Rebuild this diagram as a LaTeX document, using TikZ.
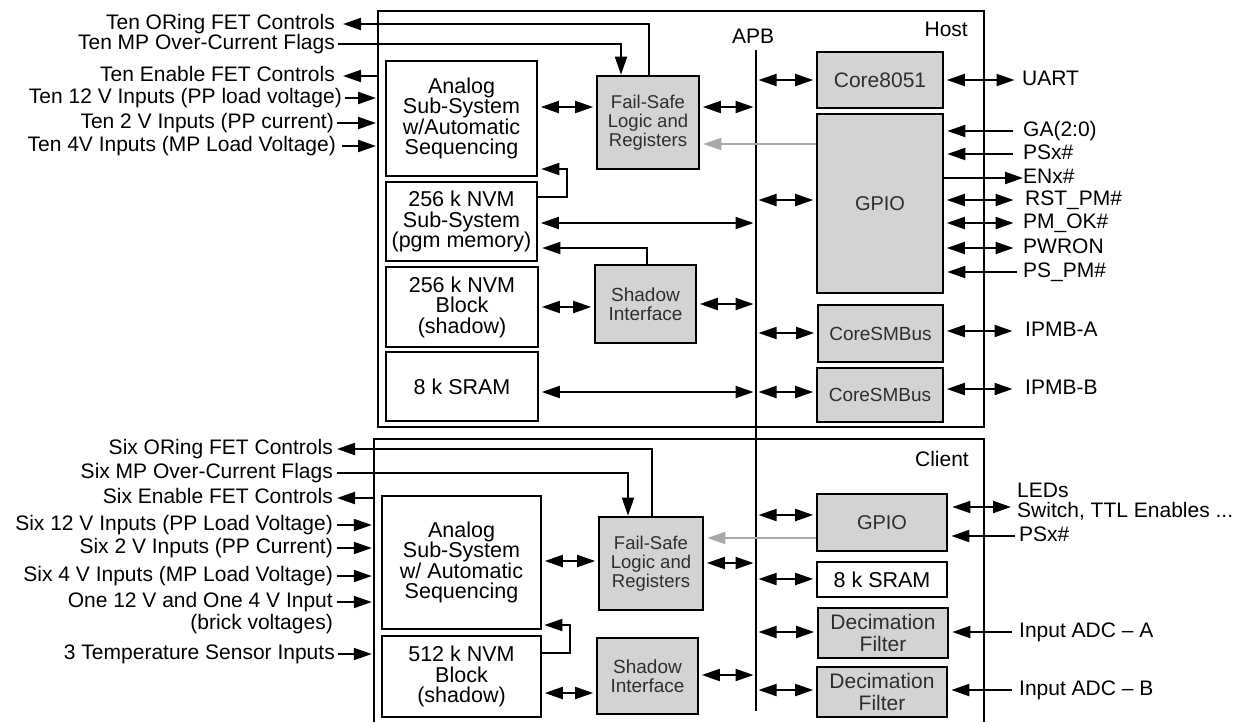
\documentclass[tikz,border=0pt]{standalone}
\usepackage{fontspec}
\setmainfont{Liberation Sans}
\usetikzlibrary{arrows.meta}
\definecolor{boxgray}{HTML}{D3D3D5}
\definecolor{textgray}{HTML}{2E2E2E}
\definecolor{arrgray}{HTML}{A8A8A8}
\begin{document}
\begin{tikzpicture}[x=1pt,y=-1pt,
  lab/.style={font=\fontsize{21}{21}\selectfont, inner sep=0pt, text height=15pt, text depth=4pt},
  sz/.style 2 args={minimum width=#1pt, minimum height=#2pt},
  wbox/.style={draw, line width=2.6pt, fill=white, align=center, inner sep=0pt, font=\fontsize{21.5}{20.5}\selectfont},
  gbox/.style={draw, line width=2.6pt, fill=boxgray, align=center, inner sep=0pt, text=textgray, font=\fontsize{19}{19}\selectfont},
  frame/.style={draw, line width=2pt},
  arr/.style={line width=2pt, -{Triangle[length=18pt,width=12pt]}},
  dbl/.style={line width=2pt, {Triangle[length=18pt,width=12pt]}-{Triangle[length=18pt,width=12pt]}},
  garr/.style={line width=2pt, draw=arrgray, -{Triangle[length=18pt,width=12pt]}},
  gap/.style={shorten <=2.5pt, shorten >=2.5pt},
]
\useasboundingbox (0,0) rectangle (1241,721);

% frames
\node[frame, sz={606}{416}] (host) at (681,219) {};
\node[sz={610}{300}] (client) at (679,589) {};
\draw[frame] (client.south west) |- (client.north east) -- (client.south east);
\node[lab, anchor=east] (hostlab) at (968,31) {Host};
\node[lab, anchor=east] (clientlab) at (969,461) {Client};

% APB bus
\coordinate (apbT) at (756,50);
\coordinate (apbB) at (756,711);
\draw[line width=2pt] (apbT) -- (apbB);
\node[lab] (apblab) at (753,37.5) {APB};

% ---------- Host boxes ----------
\node[wbox, sz={151}{115}] (anaH) at (461.5,118.5) {Analog\\Sub-System\\w/Automatic\\Sequencing};
\node[gbox, sz={102}{93}, font=\fontsize{18.5}{19}\selectfont] (failH) at (648,122.5) {Fail-Safe\\Logic and\\Registers};
\node[wbox, sz={151}{79}] (nvmH) at (461.5,221.5) {256 k NVM\\Sub-System\\(pgm memory)};
\node[wbox, sz={152}{80}] (blkH) at (462,307) {256 k NVM\\Block\\(shadow)};
\node[gbox, sz={101}{78}, font=\fontsize{19}{18.5}\selectfont] (shdH) at (645.5,304) {Shadow\\Interface};
\node[wbox, sz={152}{69}] (sramH) at (462,386.5) {8 k SRAM};
\node[gbox, sz={126}{56}, font=\fontsize{21}{21}\selectfont] (coreH) at (880,80) {Core8051};
\node[gbox, sz={126}{179}, font=\fontsize{20}{20}\selectfont] (gpioH) at (880,203.5) {GPIO};
\node[gbox, sz={125}{57}] (smbA) at (880.5,333.5) {CoreSMBus};
\node[gbox, sz={126}{54}] (smbB) at (880,395) {CoreSMBus};

% Host left labels
\node[lab, anchor=east] (lORH) at (335,24) {Ten ORing FET Controls};
\node[lab, anchor=east] (lMPH) at (335,44) {Ten MP Over-Current Flags};
\node[lab, anchor=east] (lENH) at (335,76) {Ten Enable FET Controls};
\node[lab, anchor=east] (l12H) at (342,98) {Ten 12 V Inputs (PP load voltage)};
\node[lab, anchor=east] (l2H) at (334,123) {Ten 2 V Inputs (PP current)};
\node[lab, anchor=east] (l4H) at (336,146) {Ten 4V Inputs (MP Load Voltage)};

\draw[arr] ([xshift=1pt]failH.north) |- ([xshift=8pt]lORH.east);
\draw[arr] ([xshift=3pt]lMPH.east) -| ([xshift=-27pt]failH.north);
\draw[arr] (host.west |- lENH.east) -- ([xshift=8pt]lENH.east);
\draw[arr, shorten >=1pt] ([xshift=3pt]l12H.east) -- (host.west |- l12H.east);
\draw[arr, shorten >=1pt] ([xshift=3pt]l2H.east) -- (host.west |- l2H.east);
\draw[arr, shorten >=1pt] ([xshift=6pt]l4H.east) -- (host.west |- l4H.east);

% Host internal connectors
\draw[dbl, gap] (anaH.east |- 0,107) -- (failH.west |- 0,107);
\draw[dbl, gap] (failH.east |- 0,107) -- (apbT |- 0,107);
\draw[garr, shorten >=3pt] (gpioH.west |- 0,144) -- (failH.east |- 0,144);
\draw[arr, shorten >=3pt] (nvmH.east |- 0,197) -| (567,169) -- (anaH.east |- 0,169);
\draw[dbl, gap] (nvmH.east |- 0,223) -- (apbT |- 0,223);
\draw[arr, shorten >=4pt] ([xshift=1.5pt]shdH.north) |- (nvmH.east |- 0,248);
\draw[dbl, gap] (blkH.east |- 0,307) -- (shdH.west |- 0,307);
\draw[dbl, gap] (shdH.east |- 0,304) -- (apbT |- 0,304);
\draw[dbl, gap] (sramH.east |- 0,392) -- (apbT |- 0,392);
\draw[dbl, gap] (apbT |- coreH.west) -- (coreH.west);
\draw[dbl, gap] (apbT |- 0,200) -- (gpioH.west |- 0,200);
\draw[dbl, gap] (apbT |- 0,333) -- (smbA.west |- 0,333);
\draw[dbl, gap] (apbT |- 0,392) -- (smbB.west |- 0,392);

% Host right labels
\node[lab, anchor=west] (lUART) at (1022,80) {UART};
\node[lab, anchor=west] (lGA) at (1023,131) {GA(2:0)};
\node[lab, anchor=west] (lPSH) at (1023,154) {PSx\#};
\node[lab, anchor=west] (lEN) at (1023,178) {ENx\#};
\node[lab, anchor=west] (lRST) at (1025,200) {RST\_PM\#};
\node[lab, anchor=west] (lPMOK) at (1023,223) {PM\_OK\#};
\node[lab, anchor=west] (lPWR) at (1023,248) {PWRON};
\node[lab, anchor=west] (lPSPM) at (1023,272) {PS\_PM\#};
\node[lab, anchor=west] (lIPA) at (1025,331) {IPMB-A};
\node[lab, anchor=west] (lIPB) at (1025,389) {IPMB-B};

\draw[dbl, gap] (coreH.east) -- ([xshift=-5pt]lUART.west);
\draw[arr, shorten >=3pt] ([xshift=-10pt]lGA.west) -- (gpioH.east |- lGA.west);
\draw[arr, shorten >=3pt] ([xshift=-10pt]lPSH.west) -- (gpioH.east |- lPSH.west);
\draw[arr] (gpioH.east |- lEN.west) -- (lEN.west);
\draw[dbl, gap] (gpioH.east |- lRST.west) -- ([xshift=-9pt]lRST.west);
\draw[dbl, gap] (gpioH.east |- lPMOK.west) -- ([xshift=-7pt]lPMOK.west);
\draw[dbl, gap] (gpioH.east |- lPWR.west) -- ([xshift=-7pt]lPWR.west);
\draw[arr, shorten >=3pt] ([xshift=-6pt]lPSPM.west) -- (gpioH.east |- lPSPM.west);
\draw[dbl, gap] (smbA.east |- lIPA.west) -- ([xshift=-10pt]lIPA.west);
\draw[dbl, gap] (smbB.east |- lIPB.west) -- ([xshift=-10pt]lIPB.west);

% ---------- Client boxes ----------
\node[wbox, sz={159}{133}] (anaC) at (461.5,562.5) {Analog\\Sub-System\\w/ Automatic\\Sequencing};
\node[gbox, sz={104}{93}, font=\fontsize{18.5}{19}\selectfont] (failC) at (651,563.5) {Fail-Safe\\Logic and\\Registers};
\node[wbox, sz={159}{81}] (blkC) at (461.5,676.5) {512 k NVM\\Block\\(shadow)};
\node[gbox, sz={101}{76}, font=\fontsize{19}{18.5}\selectfont] (shdC) at (647.5,676) {Shadow\\Interface};
\node[gbox, sz={130}{57}, font=\fontsize{20}{20}\selectfont] (gpioC) at (882,522.5) {GPIO};
\node[wbox, sz={130}{35}] (sramC) at (882,579.5) {8 k SRAM};
\node[gbox, sz={130}{50}, font=\fontsize{21}{21.5}\selectfont] (decA) at (883,633) {Decimation\\Filter};
\node[gbox, sz={130}{50}, font=\fontsize{21}{21.5}\selectfont] (decB) at (882,692) {Decimation\\Filter};

% Client left labels
\node[lab, anchor=east] (lORC) at (333,449) {Six ORing FET Controls};
\node[lab, anchor=east] (lMPC) at (333,473) {Six MP Over-Current Flags};
\node[lab, anchor=east] (lENC) at (333,498) {Six Enable FET Controls};
\node[lab, anchor=east] (l12C) at (333,525) {Six 12 V Inputs (PP Load Voltage)};
\node[lab, anchor=east] (l2C) at (333,548) {Six 2 V Inputs (PP Current)};
\node[lab, anchor=east] (l4C) at (333,576) {Six 4 V Inputs (MP Load Voltage)};
\node[lab, anchor=east] (l1C) at (333,602) {One 12 V and One 4 V Input};
\node[lab, anchor=east] (lbrick) at (333,624) {(brick voltages)};
\node[lab, anchor=east] (ltemp) at (335,654) {3 Temperature Sensor Inputs};

\draw[arr] ([xshift=1pt]failC.north) |- ([xshift=4pt]lORC.east);
\draw[arr] ([xshift=4pt]lMPC.east) -| ([xshift=-23pt]failC.north);
\draw[arr] (client.west |- lENC.east) -- ([xshift=4pt]lENC.east);
\draw[arr, shorten >=2pt] ([xshift=4pt]l12C.east) -- (client.west |- l12C.east);
\draw[arr, shorten >=2pt] ([xshift=4pt]l2C.east) -- (client.west |- l2C.east);
\draw[arr, shorten >=2pt] ([xshift=4pt]l4C.east) -- (client.west |- l4C.east);
\draw[arr, shorten >=2pt] ([xshift=4pt]l1C.east) -- (client.west |- l1C.east);
\draw[arr, shorten >=2pt] ([xshift=3pt]ltemp.east) -- (client.west |- ltemp.east);

% Client internal connectors
\draw[dbl, gap] (anaC.east |- 0,561) -- (failC.west |- 0,561);
\draw[dbl, gap] (failC.east |- 0,563) -- (apbT |- 0,563);
\draw[garr, shorten >=3pt] (gpioC.west |- 0,538) -- (failC.east |- 0,538);
\draw[arr, shorten >=2pt] (blkC.east |- 0,653) -| (570,625) -- (anaC.east |- 0,625);
\draw[dbl, gap] (blkC.east |- 0,693) -- (shdC.west |- 0,693);
\draw[dbl, gap] (shdC.east |- 0,675) -- (apbT |- 0,675);
\draw[dbl, gap] (apbT |- 0,515) -- (gpioC.west |- 0,515);
\draw[dbl, gap] (apbT |- 0,579) -- (sramC.west |- 0,579);
\draw[dbl, gap] (apbT |- 0,632) -- (decA.west |- 0,632);
\draw[dbl, gap] (apbT |- 0,690) -- (decB.west |- 0,690);

% Client right labels
\node[lab, anchor=west] (lLED) at (1017,492) {LEDs};
\node[lab, anchor=west] (lSW) at (1017,512) {Switch, TTL Enables ...};
\node[lab, anchor=west] (lPSC) at (1019,536) {PSx\#};
\node[lab, anchor=west] (lADA) at (1019,632) {Input ADC – A};
\node[lab, anchor=west] (lADB) at (1019,690) {Input ADC – B};

\draw[dbl, shorten <=4pt, shorten >=6pt] (gpioC.east |- 0,507) -- (lSW.west |- 0,507);
\draw[arr, shorten >=3pt] ([xshift=-4pt]lPSC.west) -- (gpioC.east |- lPSC.west);
\draw[arr, shorten >=3pt] ([xshift=-7pt]lADA.west) -- (decA.east |- lADA.west);
\draw[arr, shorten >=3pt] ([xshift=-7pt]lADB.west) -- (decB.east |- lADB.west);
\end{tikzpicture}
\end{document}
